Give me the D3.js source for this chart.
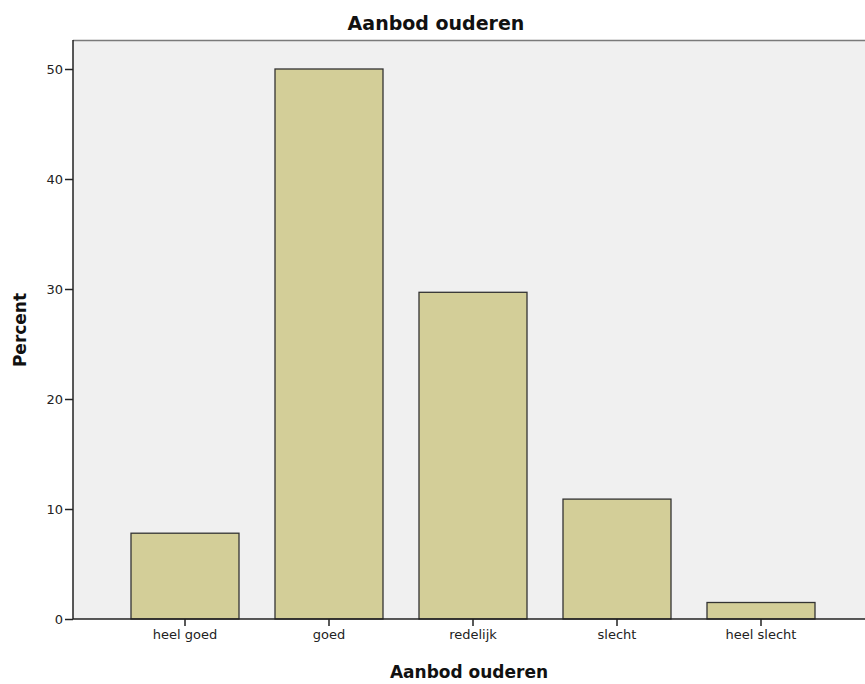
<!DOCTYPE html>
<html><head><meta charset="utf-8">
<script src="https://cdn.jsdelivr.net/npm/d3@7"></script>
<style>body{margin:0;background:#fff}svg{display:block;font-family:"DejaVu Sans",sans-serif}</style>
</head><body>
<script>
const categories = ["heel goed", "goed", "redelijk", "slecht", "heel slecht"];
const percents = [7.8, 50.0, 29.7, 10.9, 1.5];
const yTicks = [0, 10, 20, 30, 40, 50];
const title = "Aanbod ouderen";
const xTitle = "Aanbod ouderen";
const yTitle = "Percent";

const W = 865, H = 684;
const svg = d3.select("body").append("svg").attr("width", W).attr("height", H);
const plotL = 73, plotT = 40, plotB = 619, plotR = 905;
const FONT = "DejaVu Sans, sans-serif";

const x = d3.scaleBand().domain(categories).range([113, 833]).paddingInner(0.25).paddingOuter(0.125);
const y = d3.scaleLinear().domain([0, 50]).range([619, 69]);

svg.append("rect").attr("x", plotL).attr("y", plotT).attr("width", plotR - plotL).attr("height", plotB - plotT)
  .attr("fill", "#f0f0f0");
svg.append("line").attr("x1", plotL).attr("x2", plotR).attr("y1", plotT + 0.5).attr("y2", plotT + 0.5)
  .attr("stroke", "#7a7a7a").attr("stroke-width", 1.5);

svg.selectAll("rect.bar").data(percents).join("rect").attr("class", "bar")
  .attr("x", (d, i) => x(categories[i]))
  .attr("y", d => y(d))
  .attr("width", x.bandwidth())
  .attr("height", d => y(0) - y(d))
  .attr("fill", "#d3ce98").attr("stroke", "#333").attr("stroke-width", 1.3);

const yAxis = d3.axisLeft(y).tickValues(yTicks).tickSize(8).tickPadding(2).tickFormat(d3.format("d"));
const gy = svg.append("g").attr("transform", `translate(${plotL},0)`).call(yAxis);
gy.select(".domain").attr("d", `M0,${plotT}V${plotB}`).attr("stroke", "#222").attr("stroke-width", 1.5);
gy.selectAll(".tick line").attr("stroke", "#222").attr("stroke-width", 1.5);
gy.selectAll(".tick text").attr("font-size", 13).attr("fill", "#222").attr("font-family", FONT);

const xAxis = d3.axisBottom(x).tickSize(7).tickPadding(4);
const gx = svg.append("g").attr("transform", `translate(0,${plotB})`).call(xAxis);
gx.select(".domain").attr("d", `M${plotL},0H${plotR}`).attr("stroke", "#222").attr("stroke-width", 1.5);
gx.selectAll(".tick line").attr("stroke", "#222").attr("stroke-width", 1.5);
gx.selectAll(".tick text").attr("font-size", 13).attr("fill", "#222").attr("font-family", FONT);

svg.append("text").attr("x", 436).attr("y", 30).attr("text-anchor", "middle").attr("font-family", FONT)
  .attr("font-size", 19).attr("font-weight", "bold").attr("fill", "#111").text(title);
svg.append("text").attr("x", 469).attr("y", 678).attr("text-anchor", "middle").attr("font-family", FONT)
  .attr("font-size", 17).attr("font-weight", "bold").attr("fill", "#111").text(xTitle);
svg.append("text").attr("transform", "translate(26,330) rotate(-90)").attr("text-anchor", "middle").attr("font-family", FONT)
  .attr("font-size", 17).attr("font-weight", "bold").attr("fill", "#111").text(yTitle);
</script>
</body></html>
